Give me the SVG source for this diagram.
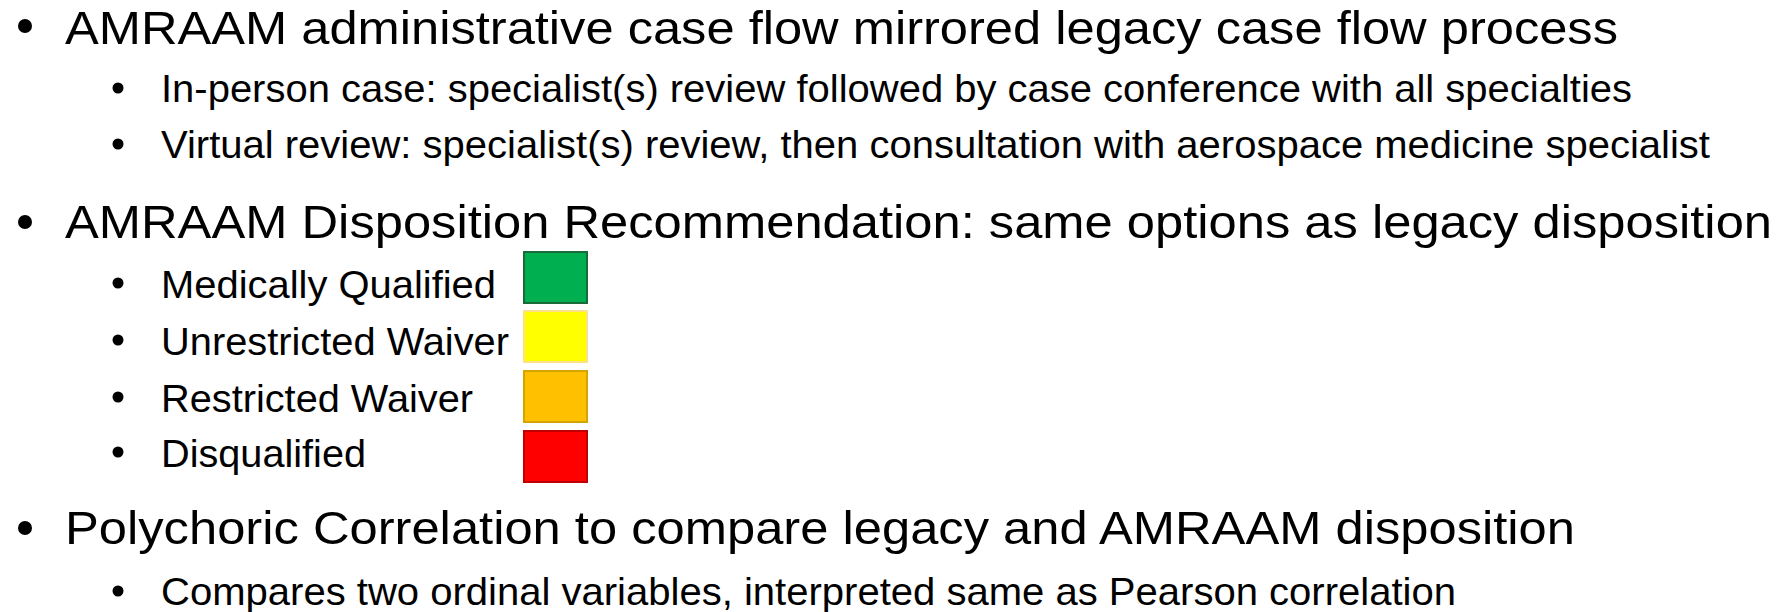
<svg xmlns="http://www.w3.org/2000/svg" width="1779" height="612" viewBox="0 0 1779 612">
<style>
.m{font-family:"Liberation Sans",Arial,sans-serif;font-size:47px;fill:#000}
.s{font-family:"Liberation Sans",Arial,sans-serif;font-size:38.5px;fill:#000}
.b{fill:#000}
</style>
<rect width="1779" height="612" fill="#fff"/>
<g id="item1">
<circle class="b" cx="25" cy="26" r="7"/>
<text class="m" x="65" y="44" textLength="1553" lengthAdjust="spacingAndGlyphs">AMRAAM administrative case flow mirrored legacy case flow process</text>
</g>
<g id="item1a">
<circle class="b" cx="118" cy="88" r="5.5"/>
<text class="s" x="161" y="102" textLength="1471" lengthAdjust="spacingAndGlyphs">In-person case: specialist(s) review followed by case conference with all specialties</text>
</g>
<g id="item1b">
<circle class="b" cx="118" cy="144" r="5.5"/>
<text class="s" x="161" y="158" textLength="1549" lengthAdjust="spacingAndGlyphs">Virtual review: specialist(s) review, then consultation with aerospace medicine specialist</text>
</g>
<g id="item2">
<circle class="b" cx="25" cy="222" r="7"/>
<text class="m" x="65" y="238" textLength="1707" lengthAdjust="spacingAndGlyphs">AMRAAM Disposition Recommendation: same options as legacy disposition</text>
</g>
<g id="item2a">
<circle class="b" cx="118" cy="283" r="5.5"/>
<text class="s" x="161" y="298" textLength="335" lengthAdjust="spacingAndGlyphs">Medically Qualified</text>
<rect x="524" y="252" width="63" height="51" fill="#00b050" stroke="#1a6b3a" stroke-width="2"/>
</g>
<g id="item2b">
<circle class="b" cx="118" cy="340" r="5.5"/>
<text class="s" x="161" y="355" textLength="348" lengthAdjust="spacingAndGlyphs">Unrestricted Waiver</text>
<rect x="524" y="311" width="63" height="51" fill="#ffff00" stroke="#ffe08a" stroke-width="2"/>
</g>
<g id="item2c">
<circle class="b" cx="118" cy="397" r="5.5"/>
<text class="s" x="161" y="412" textLength="312" lengthAdjust="spacingAndGlyphs">Restricted Waiver</text>
<rect x="524" y="371" width="63" height="51" fill="#ffc000" stroke="#d4a500" stroke-width="2"/>
</g>
<g id="item2d">
<circle class="b" cx="118" cy="452" r="5.5"/>
<text class="s" x="161" y="467" textLength="205" lengthAdjust="spacingAndGlyphs">Disqualified</text>
<rect x="524" y="431" width="63" height="51" fill="#ff0000" stroke="#c00000" stroke-width="2"/>
</g>
<g id="item3">
<circle class="b" cx="25" cy="528" r="7"/>
<text class="m" x="65" y="544" textLength="1510" lengthAdjust="spacingAndGlyphs">Polychoric Correlation to compare legacy and AMRAAM disposition</text>
</g>
<g id="item3a">
<circle class="b" cx="118" cy="591" r="5.5"/>
<text class="s" x="161" y="605" textLength="1295" lengthAdjust="spacingAndGlyphs">Compares two ordinal variables, interpreted same as Pearson correlation</text>
</g>
<g id="connectors"/>
</svg>
